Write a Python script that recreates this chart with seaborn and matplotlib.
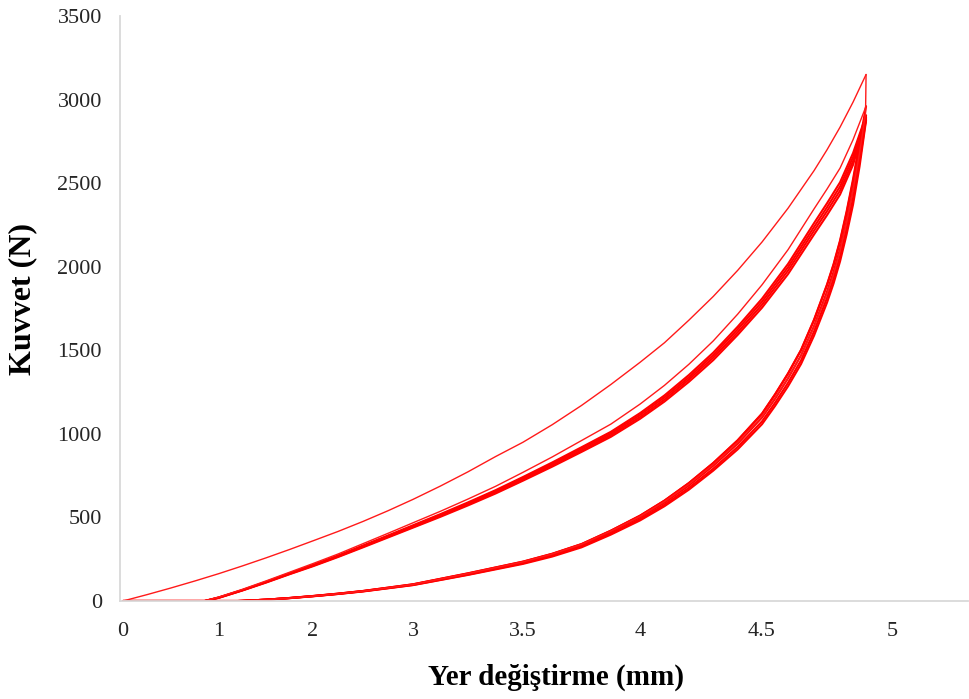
import numpy as np
import pandas as pd
import matplotlib
matplotlib.use("Agg")
import matplotlib.pyplot as plt
import seaborn as sns

# ---------------- data ----------------
# cycle 1 loading (virgin curve)
load1_mm = [0, 0.25, 0.5, 0.75, 1.0, 1.25, 1.5, 1.75, 2.0, 2.25, 2.5, 2.75, 3.0, 3.125, 3.25,
            3.375, 3.5, 3.625, 3.75, 3.875, 4.0, 4.1, 4.2, 4.3, 4.4, 4.5, 4.6, 4.7, 4.75, 4.8, 4.85, 4.9]
load1_N = [0, 38, 78, 120, 164, 210, 258, 308, 360, 416, 476, 540, 608, 688, 773,
           864, 950, 1055, 1170, 1295, 1428, 1545, 1680, 1822, 1978, 2148, 2350, 2575, 2700, 2835, 2985, 3150]

# later loading curves (cycles 2-6)
load_mm = [0, 0.85, 1.0, 1.25, 1.5, 1.75, 2.0, 2.25, 2.5, 2.75, 3.0, 3.125, 3.25, 3.375, 3.5,
           3.625, 3.75, 3.875, 4.0, 4.1, 4.2, 4.3, 4.4, 4.5, 4.6, 4.7, 4.75, 4.8, 4.85, 4.9]
load2_N = [0, 0, 24, 70, 120, 172, 224, 281, 343, 405, 468, 537, 610, 686, 770,
           862, 960, 1058, 1178, 1290, 1416, 1556, 1716, 1892, 2102, 2346, 2465, 2590, 2760, 2960]
load3_N = [0, 0, 22, 66, 115, 166, 216, 272, 332, 392, 453, 520, 590, 663, 742,
           829, 920, 1012, 1124, 1230, 1352, 1486, 1641, 1809, 2017, 2261, 2380, 2505, 2680, 2905]
load4_N = [0, 0, 21, 65, 113, 164, 213, 269, 328, 388, 448, 515, 584, 656, 734,
           821, 911, 1002, 1113, 1218, 1338, 1471, 1625, 1791, 1997, 2238, 2356, 2480, 2656, 2895]
load5_N = [0, 0, 20, 64, 112, 162, 211, 266, 325, 384, 443, 509, 578, 649, 727,
           812, 901, 992, 1101, 1205, 1325, 1456, 1608, 1773, 1977, 2216, 2333, 2456, 2632, 2885]
load6_N = [0, 0, 19, 63, 110, 160, 208, 263, 321, 380, 439, 504, 572, 643, 720,
           804, 892, 982, 1090, 1193, 1311, 1441, 1592, 1755, 1956, 2193, 2309, 2432, 2610, 2875]

# unloading curves
unload1_mm = [4.9, 4.898, 4.875, 4.85, 4.825, 4.8, 4.775, 4.75, 4.7, 4.65, 4.6, 4.55, 4.5, 4.4, 4.3, 4.2,
              4.1, 4.0, 3.875, 3.75, 3.625, 3.5, 3.25, 3.0, 2.75, 2.5, 2.25, 2.0, 1.75, 1.5, 1.25, 1.2, 0]
unload1_N = [3150, 2920, 2680, 2460, 2265, 2095, 1955, 1840, 1640, 1468, 1335, 1215, 1104, 948, 816, 698,
             595, 506, 418, 339, 281, 234, 164, 99, 79, 59, 43, 29, 17, 7, 1, 0, 0]
unload_mm = [4.9, 4.875, 4.85, 4.825, 4.8, 4.775, 4.75, 4.7, 4.65, 4.6, 4.55, 4.5, 4.4, 4.3, 4.2,
             4.1, 4.0, 3.875, 3.75, 3.625, 3.5, 3.25, 3.0, 2.75, 2.5, 2.25, 2.0, 1.75, 1.5, 1.25, 1.2, 0]
unload2_N = [2960, 2745, 2525, 2330, 2158, 2016, 1895, 1684, 1503, 1362, 1237, 1122, 962, 826, 706,
             601, 511, 421, 341, 283, 236, 166, 100, 80, 60, 44, 30, 18, 8, 1, 0, 0]
unload3_N = [2905, 2720, 2510, 2320, 2150, 2010, 1890, 1680, 1500, 1360, 1235, 1120, 960, 825, 705,
             600, 510, 420, 340, 282, 235, 165, 100, 80, 60, 44, 30, 18, 8, 1, 0, 0]
unload4_N = [2895, 2670, 2460, 2273, 2107, 1970, 1852, 1646, 1470, 1333, 1210, 1098, 941, 809, 691,
             588, 500, 412, 333, 276, 230, 162, 98, 78, 59, 43, 29, 18, 8, 1, 0, 0]
unload5_N = [2885, 2630, 2410, 2227, 2064, 1930, 1814, 1613, 1440, 1306, 1186, 1075, 922, 792, 677,
             576, 490, 403, 326, 271, 226, 158, 96, 77, 58, 42, 29, 17, 8, 1, 0, 0]
unload6_N = [2875, 2600, 2372, 2192, 2032, 1900, 1786, 1588, 1418, 1285, 1167, 1058, 907, 780, 666,
             567, 482, 397, 321, 266, 222, 156, 95, 76, 57, 42, 28, 17, 8, 1, 0, 0]

x_ticks = [0, 1, 2, 3, 3.5, 4, 4.5, 5]
x_ticklabels = ["0", "1", "2", "3", "3.5", "4", "4.5", "5"]
y_ticks = [0, 500, 1000, 1500, 2000, 2500, 3000, 3500]

# ---------------- long table ----------------
curves = [
    ("c1", load1_mm, load1_N), ("u1", unload1_mm, unload1_N),
    ("c2", load_mm, load2_N), ("u2", unload_mm, unload2_N),
    ("c3", load_mm, load3_N), ("u3", unload_mm, unload3_N),
    ("c4", load_mm, load4_N), ("u4", unload_mm, unload4_N),
    ("c5", load_mm, load5_N), ("u5", unload_mm, unload5_N),
    ("c6", load_mm, load6_N), ("u6", unload_mm, unload6_N),
]
rows = []
for name, xs, ys in curves:
    assert len(xs) == len(ys), name
    for i, (xv, yv) in enumerate(zip(xs, ys)):
        rows.append({"curve": name, "order": i, "mm": xv, "N": yv})
df = pd.DataFrame(rows)
thin = df["curve"].isin(["c1", "u1", "c2"])

# ---------------- style ----------------
sns.set_theme(style="white")
plt.rcParams["font.family"] = ["Liberation Serif", "DejaVu Serif"]

fig = plt.figure(figsize=(9.70, 6.99), dpi=100)
W, H = 970, 699
ax = fig.add_axes([120 / W, 1 - 601 / H, (968 - 120) / W, (601 - 16) / H])

# non-uniform tick spacing of the original axis
scale_mm = [-0.5, 0, 1, 2, 3, 3.5, 4, 4.5, 5, 5.5]
scale_pos = [75, 123, 219, 313, 413, 523, 640, 762, 892, 1022]


def fwd(v):
    return np.interp(v, scale_mm, scale_pos)


def inv(v):
    return np.interp(v, scale_pos, scale_mm)


ax.set_xscale("function", functions=(fwd, inv))

sns.lineplot(data=df[~thin], x="mm", y="N", units="curve", estimator=None, sort=False,
             color="#ff0000", linewidth=1.5, ax=ax, legend=False)
sns.lineplot(data=df[thin], x="mm", y="N", units="curve", estimator=None, sort=False,
             color="#ff1a1a", linewidth=1.0, ax=ax, legend=False)

ax.set_xlim(-0.031, 5.292)
ax.set_ylim(0, 3500)
ax.set_xticks(x_ticks)
ax.set_xticklabels(x_ticklabels)
ax.set_yticks(y_ticks)
ax.set_yticklabels([str(v) for v in y_ticks])
ax.xaxis.set_minor_locator(matplotlib.ticker.NullLocator())

ax.tick_params(axis="both", length=0, labelsize=16, labelcolor="#262626")
ax.tick_params(axis="x", pad=15)
ax.tick_params(axis="y", pad=13)

for s in ["top", "right"]:
    ax.spines[s].set_visible(False)
for s in ["left", "bottom"]:
    ax.spines[s].set_color("#d9d9d9")
    ax.spines[s].set_linewidth(1.3)
ax.grid(False)

ax.set_xlabel("")
ax.set_ylabel("")
fig.text(556 / W, 1 - 677 / H, "Yer değiştirme (mm)", ha="center", va="center",
         fontsize=21, fontweight="bold", color="#000000")
fig.text(23 / W, 1 - 299 / H, "Kuvvet (N)", ha="center", va="center", rotation=90,
         fontsize=23, fontweight="bold", color="#000000")

fig.savefig("out.png", dpi=100, facecolor="white")
